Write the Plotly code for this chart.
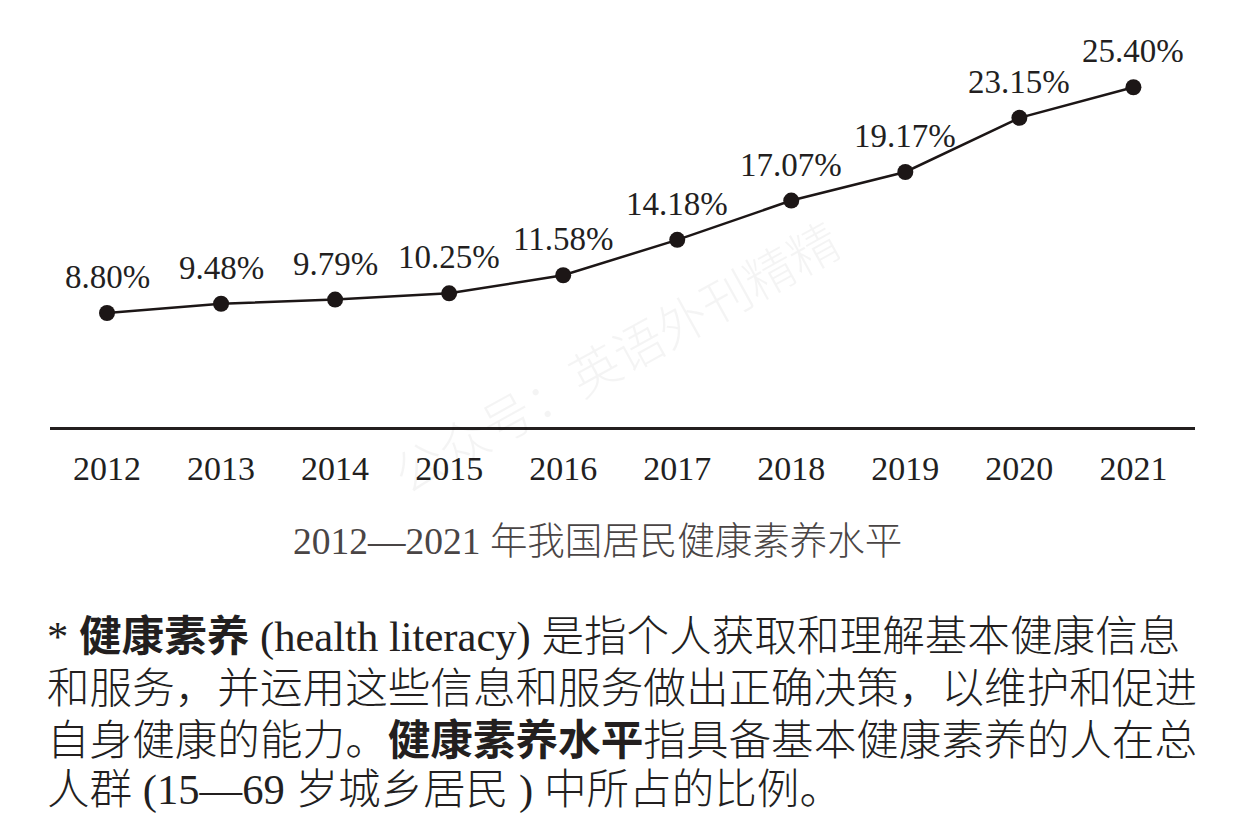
import plotly.graph_objects as go

years = ["2012", "2013", "2014", "2015", "2016", "2017", "2018", "2019", "2020", "2021"]
values = [8.80, 9.48, 9.79, 10.25, 11.58, 14.18, 17.07, 19.17, 23.15, 25.40]
labels = ["8.80%", "9.48%", "9.79%", "10.25%", "11.58%", "14.18%", "17.07%", "19.17%", "23.15%", "25.40%"]
caption = "2012—2021 年我国居民健康素养水平"
para_lines = [
    "* <b>健康素养</b> (health literacy) 是指个人获取和理解基本健康信息",
    "和服务，并运用这些信息和服务做出正确决策，以维护和促进",
    "自身健康的能力。<b>健康素养水平</b>指具备基本健康素养的人在总",
    "人群 (15—69 岁城乡居民 ) 中所占的比例。",
]
watermark = "公众号：英语外刊精精"

W, H = 1248, 832
L, R, T, B = 50, 53, 30, 405
pw, ph = W - L - R, H - T - B

def px(x):
    return (x - L) / pw

def py(y):
    return (H - B - y) / ph

SERIF = "Liberation Serif, Noto Sans CJK SC"
idx = list(range(len(years)))

fig = go.Figure()
fig.add_trace(go.Scatter(
    x=idx, y=values, mode="lines+markers",
    line=dict(color="#1c1616", width=2.5),
    marker=dict(color="#1c1616", size=16),
    hoverinfo="skip", showlegend=False,
))

annotations = []
for i, (v, lab) in enumerate(zip(values, labels)):
    annotations.append(dict(
        x=i, y=v, xref="x", yref="y", text=lab, showarrow=False,
        yshift=36, font=dict(family="Liberation Serif", size=33, color="#231f1f"),
    ))

annotations.append(dict(
    x=px(597), y=py(541), xref="paper", yref="paper", text=caption,
    showarrow=False, xanchor="center", yanchor="middle",
    font=dict(family=SERIF, size=37.5, color="#4a4545", weight=300),
))

line_y = [637, 688, 740, 790]
for t, yy in zip(para_lines, line_y):
    annotations.append(dict(
        x=px(45), y=py(yy), xref="paper", yref="paper", text=t,
        showarrow=False, xanchor="left", yanchor="middle",
        font=dict(family=SERIF, size=42.6, color="#231f1f", weight=300),
    ))

annotations.append(dict(
    x=px(615), y=py(355), xref="paper", yref="paper", text=watermark,
    showarrow=False, xanchor="center", yanchor="middle", textangle=-29,
    font=dict(family="Noto Sans CJK SC", size=50, color="rgba(0,0,0,0.045)", weight=300),
))

fig.update_layout(
    width=W, height=H,
    margin=dict(l=L, r=R, t=T, b=B),
    paper_bgcolor="white", plot_bgcolor="white",
    annotations=annotations,
    xaxis=dict(
        range=[-0.5, 9.54], tickmode="array", tickvals=idx, ticktext=years,
        showgrid=False, zeroline=False, showline=True, linecolor="#231f1f",
        linewidth=2.5, ticks="", ticklabelstandoff=9,
        tickfont=dict(family="Liberation Serif", size=34, color="#231f1f"),
        fixedrange=True,
    ),
    yaxis=dict(
        range=[0.42, 0.42 + ph / 13.6], visible=False, showgrid=False,
        zeroline=False, fixedrange=True,
    ),
)

fig.write_html(
    "out.html",
    config={"displayModeBar": False},
    post_script="document.body.style.margin='0';document.body.style.overflow='hidden';",
)
